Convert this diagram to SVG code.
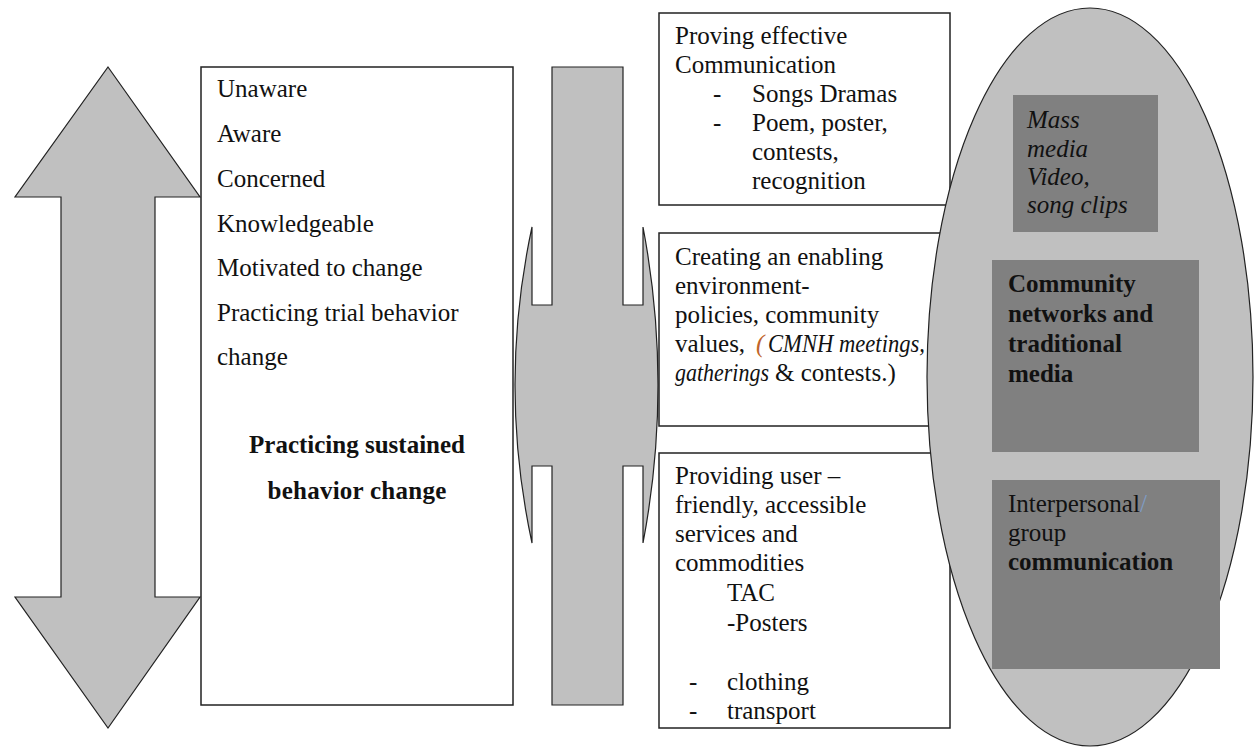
<svg xmlns="http://www.w3.org/2000/svg" width="1254" height="750" viewBox="0 0 1254 750">
  <style>
    .t { font-family: "Liberation Serif", "DejaVu Serif", "Noto Serif", serif; font-size: 25px; fill: #111; }
    .b { font-weight: bold; }
    .i { font-style: italic; }
    .box { fill: #fff; stroke: #222; stroke-width: 1.5; }
    .arrow { fill: #c0c0c0; stroke: #222; stroke-width: 1.2; stroke-linejoin: miter; }
    .dark { fill: #808080; }
  </style>

  <!-- arrow shapes -->
  <g id="connectors">
    <!-- vertical double-headed arrow on the left -->
    <polygon class="arrow" points="108,67 200,197 155,197 155,597 200,597 108,728 15,597 61,597 61,197 15,197"/>
    <!-- vertical bar crossed by a horizontal double-headed arrow -->
    <path class="arrow" d="M552,67 H623 V305 H643 V227 Q673,385 643,543 V466 H623 V705 H552 V466 H532 V543 Q498,385 532,227 V305 H552 Z"/>
  </g>

  <g font-family="Liberation Serif, DejaVu Serif, serif">
  <!-- stages of change -->
  <g id="stages">
    <rect class="box" x="201" y="67" width="312" height="638"/>
    <text class="t" x="217" y="97">Unaware</text>
    <text class="t" x="217" y="142">Aware</text>
    <text class="t" x="217" y="187">Concerned</text>
    <text class="t" x="217" y="232">Knowledgeable</text>
    <text class="t" x="217" y="276">Motivated to change</text>
    <text class="t" x="217" y="321">Practicing trial behavior</text>
    <text class="t" x="217" y="365">change</text>
    <text class="t b" x="357" y="453" text-anchor="middle">Practicing sustained</text>
    <text class="t b" x="357" y="499" text-anchor="middle" letter-spacing="0.25">behavior change</text>
  </g>

  <!-- strategy boxes -->
  <g id="communication">
    <rect class="box" x="659" y="13" width="291" height="192"/>
    <text class="t" x="675" y="44">Proving effective</text>
    <text class="t" x="675" y="73">Communication</text>
    <text class="t" x="713" y="102">-</text>
    <text class="t" x="752" y="102">Songs Dramas</text>
    <text class="t" x="713" y="131">-</text>
    <text class="t" x="752" y="131">Poem, poster,</text>
    <text class="t" x="752" y="160">contests,</text>
    <text class="t" x="752" y="189">recognition</text>
  </g>

  <g id="environment">
    <rect class="box" x="659" y="233" width="291" height="193"/>
    <text class="t" x="675" y="265">Creating an enabling</text>
    <text class="t" x="675" y="294">environment-</text>
    <text class="t" x="675" y="323">policies, community</text>
    <text class="t" x="675" y="352">values,</text>
    <text class="t i" x="756" y="352" style="fill:#c0642a">(</text>
    <text class="t i" x="768" y="352" textLength="157" lengthAdjust="spacingAndGlyphs">CMNH meetings,</text>
    <text class="t i" x="675" y="381" textLength="94" lengthAdjust="spacingAndGlyphs">gatherings</text>
    <text class="t" x="775" y="381">&amp; contests.)</text>
  </g>

  <g id="services">
    <rect class="box" x="659" y="453" width="291" height="275"/>
    <text class="t" x="675" y="484">Providing user –</text>
    <text class="t" x="675" y="513">friendly, accessible</text>
    <text class="t" x="675" y="542">services and</text>
    <text class="t" x="675" y="571">commodities</text>
    <text class="t" x="727" y="601">TAC</text>
    <text class="t" x="727" y="631">-Posters</text>
    <text class="t" x="689" y="690">-</text>
    <text class="t" x="727" y="690">clothing</text>
    <text class="t" x="689" y="719">-</text>
    <text class="t" x="727" y="719">transport</text>
  </g>

  <!-- communication channels -->
  <g id="channels">
    <ellipse cx="1090" cy="377" rx="163" ry="369" fill="#c0c0c0" stroke="#222" stroke-width="1.2"/>
  </g>

  <g id="mass-media">
    <rect class="dark" x="1013" y="95" width="145" height="137"/>
    <text class="t i" x="1027" y="128">Mass</text>
    <text class="t i" x="1027" y="157">media</text>
    <text class="t i" x="1027" y="185">Video,</text>
    <text class="t i" x="1027" y="213">song clips</text>
  </g>

  <g id="community-networks">
    <rect class="dark" x="992" y="260" width="207" height="192"/>
    <text class="t b" x="1008" y="292">Community</text>
    <text class="t b" x="1008" y="322">networks and</text>
    <text class="t b" x="1008" y="352">traditional</text>
    <text class="t b" x="1008" y="382">media</text>
  </g>

  <g id="interpersonal">
    <rect class="dark" x="992" y="480" width="228" height="189"/>
    <text class="t" x="1008" y="512">Interpersonal<tspan style="fill:#7f9cc4">/</tspan></text>
    <text class="t" x="1008" y="541">group</text>
    <text class="t b" x="1008" y="570">communication</text>
  </g>
  </g>
</svg>
